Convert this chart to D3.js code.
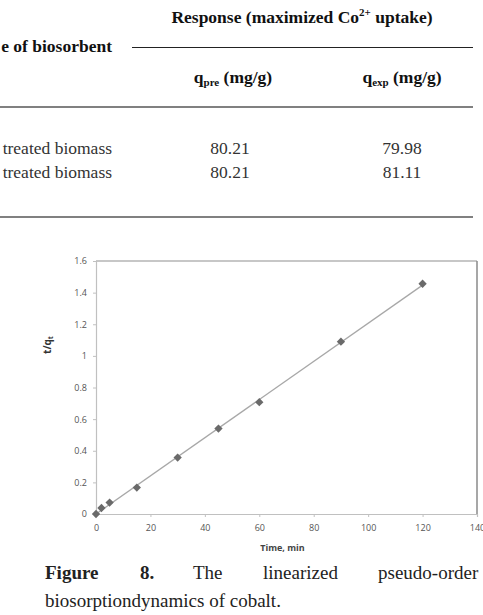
<!DOCTYPE html>
<html>
<head>
<meta charset="utf-8">
<script src="https://cdn.jsdelivr.net/npm/d3@7"></script>
<style>
  html, body { margin: 0; padding: 0; background: #fff; overflow: hidden; }
  svg { display: block; }
</style>
</head>
<body>
<svg id="c" width="483" height="615"></svg>
<script>
// ---- data ----
const timeMin = [0, 2, 5, 15, 30, 45, 60, 90, 120];
const tOverQt = [0, 0.038, 0.072, 0.167, 0.357, 0.54, 0.707, 1.09, 1.456];
const xTicks = [0, 20, 40, 60, 80, 100, 120, 140];
const yTicks = [0, 0.2, 0.4, 0.6, 0.8, 1, 1.2, 1.4, 1.6];
const tableRows = ["treated biomass", "treated biomass"];
const qPre = ["80.21", "80.21"];
const qExp = ["79.98", "81.11"];

const svg = d3.select("#c");
const serif = "'Liberation Serif', 'Times New Roman', serif";
const sans = "'Open Sans', 'DejaVu Sans', sans-serif";

// ---- table fragment ----
const tbl = svg.append("g").attr("font-family", serif).attr("fill", "#111");
const head = tbl.append("text").attr("x", 302).attr("y", 23).attr("text-anchor", "middle")
  .attr("font-size", 17.5).attr("font-weight", "bold");
head.append("tspan").text("Response (maximized Co");
head.append("tspan").attr("font-size", 11).attr("dy", -7).text("2+");
head.append("tspan").attr("dy", 7).text(" uptake)");
tbl.append("line").attr("x1", 132).attr("x2", 473).attr("y1", 47.5).attr("y2", 47.5)
  .attr("stroke", "#222").attr("stroke-width", 1.2);
tbl.append("text").attr("x", 112).attr("y", 52).attr("text-anchor", "end")
  .attr("font-size", 17.5).attr("font-weight", "bold").text("e of biosorbent");
const subs = [{c: 233, s: "pre"}, {c: 402, s: "exp"}];
subs.forEach(d => {
  const t = tbl.append("text").attr("x", d.c).attr("y", 83).attr("text-anchor", "middle")
    .attr("font-size", 17.5).attr("font-weight", "bold");
  t.append("tspan").text("q");
  t.append("tspan").attr("font-size", 11).attr("dy", 3).text(d.s);
  t.append("tspan").attr("dy", -3).text(" (mg/g)");
});
tbl.append("line").attr("x1", 0).attr("x2", 473).attr("y1", 107).attr("y2", 107)
  .attr("stroke", "#808080").attr("stroke-width", 2);
tableRows.forEach((r, i) => {
  const y = 154 + i * 24;
  tbl.append("text").attr("x", 112).attr("y", y).attr("text-anchor", "end")
    .attr("font-size", 17.5).attr("fill", "#333").text(r);
  tbl.append("text").attr("x", 230).attr("y", y).attr("text-anchor", "middle")
    .attr("font-size", 17.5).attr("fill", "#333").text(qPre[i]);
  tbl.append("text").attr("x", 402).attr("y", y).attr("text-anchor", "middle")
    .attr("font-size", 17.5).attr("fill", "#333").text(qExp[i]);
});
tbl.append("line").attr("x1", 0).attr("x2", 473).attr("y1", 217).attr("y2", 217)
  .attr("stroke", "#808080").attr("stroke-width", 2);

// ---- chart ----
const x = d3.scaleLinear().domain([0, 140]).range([96, 477]);
const y = d3.scaleLinear().domain([0, 1.6]).range([514, 261]);

const g = svg.append("g");
// frame top & right
g.append("line").attr("x1", x(0)).attr("x2", x(140)).attr("y1", y(1.6)).attr("y2", y(1.6))
  .attr("stroke", "#b5b5b5").attr("stroke-width", 1.5);
g.append("line").attr("x1", x(140)).attr("x2", x(140)).attr("y1", y(1.6)).attr("y2", y(0))
  .attr("stroke", "#8a8a8a").attr("stroke-width", 1.5);

const xAxis = g.append("g").attr("transform", `translate(0,${y(0)})`)
  .call(d3.axisBottom(x).tickValues(xTicks).tickSize(3).tickPadding(8).tickFormat(d3.format("d")));
const yAxis = g.append("g").attr("transform", `translate(${x(0)},0)`)
  .call(d3.axisLeft(y).tickValues(yTicks).tickSize(3).tickPadding(6).tickFormat(d => d3.format("")(+d.toFixed(1))));
[xAxis, yAxis].forEach(a => {
  a.select(".domain").attr("stroke", "#c0c0c0").attr("stroke-width", 1.2);
  a.selectAll(".tick line").attr("stroke", "#c0c0c0");
  a.selectAll(".tick text").attr("fill", "#555").attr("font-family", sans).attr("font-size", 9);
});

// regression (trendline) computed from the data
const mx = d3.mean(timeMin), my = d3.mean(tOverQt);
const slope = d3.sum(timeMin.map((t, i) => (t - mx) * (tOverQt[i] - my))) /
  d3.sum(timeMin.map(t => (t - mx) ** 2));
const icpt = my - slope * mx;
const ext = d3.extent(timeMin);
g.append("path")
  .datum(ext.map(t => [t, icpt + slope * t]))
  .attr("d", d3.line().x(d => x(d[0])).y(d => y(d[1])))
  .attr("stroke", "#a8a8a8").attr("stroke-width", 1.3).attr("fill", "none");

g.selectAll("path.pt").data(timeMin).join("path").attr("class", "pt")
  .attr("d", d3.symbol().type(d3.symbolDiamond2).size(44))
  .attr("transform", (d, i) => `translate(${x(d)},${y(tOverQt[i])})`)
  .attr("fill", "#6a6a6a");

g.append("text").attr("x", (x(0) + x(140)) / 2 - 4).attr("y", 551).attr("text-anchor", "middle")
  .attr("font-family", sans).attr("font-size", 9).attr("font-weight", "bold").attr("fill", "#444")
  .text("Time, min");
const yl = g.append("text").attr("transform", "translate(51,345) rotate(-90)").attr("text-anchor", "middle")
  .attr("font-family", sans).attr("font-size", 10).attr("font-weight", "bold").attr("fill", "#333");
yl.append("tspan").text("t/q");
yl.append("tspan").attr("font-size", 7).attr("dy", 2).text("t");

// ---- caption ----
const cap = svg.append("g").attr("font-family", serif).attr("font-size", 19).attr("fill", "#222");
const words = [{w: "Figure", b: true, x: 45}, {w: "8.", b: true, x: 140}, {w: "The", b: false, x: 193},
  {w: "linearized", b: false, x: 263}, {w: "pseudo-order", b: false, x: 378}];
words.forEach(d => cap.append("text").attr("x", d.x).attr("y", 579)
  .attr("font-weight", d.b ? "bold" : "normal").text(d.w));
cap.append("text").attr("x", 45).attr("y", 607).text("biosorptiondynamics of cobalt.");
</script>
</body>
</html>
